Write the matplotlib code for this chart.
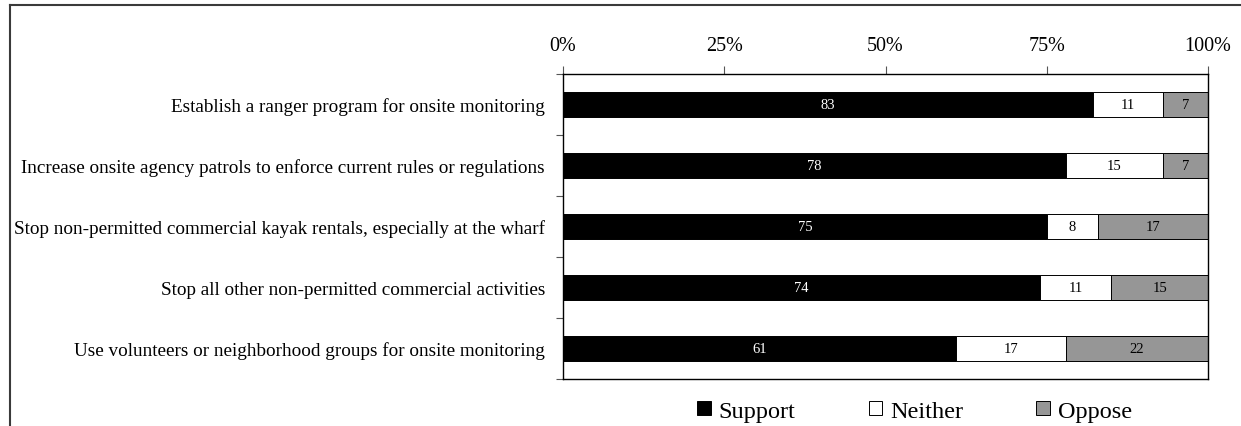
import numpy as np
import matplotlib
matplotlib.use("Agg")
import matplotlib.pyplot as plt
from matplotlib.patches import Patch
from matplotlib.lines import Line2D

plt.rcParams['font.family'] = ['Liberation Serif', 'DejaVu Serif']

actions = [
    "Establish a ranger program for onsite monitoring",
    "Increase onsite agency patrols to enforce current rules or regulations",
    "Stop non-permitted commercial kayak rentals, especially at the wharf",
    "Stop all other non-permitted commercial activities",
    "Use volunteers or neighborhood groups for onsite monitoring",
]
support = [83, 78, 75, 74, 61]
neither = [11, 15, 8, 11, 17]
oppose = [7, 7, 17, 15, 22]
series_names = ["Support", "Neither", "Oppose"]
xticks = [0, 25, 50, 75, 100]


def stacked(ax, cols, colors, txtcolors):
    y = np.arange(len(actions))
    tot = np.sum(cols, axis=0).astype(float)
    left = np.zeros(len(actions))
    for vals, c, tc in zip(cols, colors, txtcolors):
        vals = np.array(vals, dtype=float)
        w = vals / tot * 100
        ax.barh(y, w, left=left, height=0.41, color=c,
                edgecolor='black', linewidth=0.7)
        for yi, li, wi, v in zip(y, left, w, vals):
            ax.text(li + wi / 2, yi, "%d" % v, ha='center', va='center',
                    fontsize=10.5, color=tc)
        left = left + w


fig = plt.figure(figsize=(12.41, 4.27), dpi=100)
ax = fig.add_axes([0.4537, 0.110, 0.5197, 0.7144])

colors = ['black', 'white', '#969696']
stacked(ax, [support, neither, oppose], colors, ['white', 'black', 'black'])

ax.set_xlim(0, 100)
ax.set_ylim(len(actions) - 0.5, -0.5)
ax.xaxis.tick_top()
ax.set_xticks(xticks)
ax.set_xticklabels(["%d%%" % t for t in xticks], fontsize=14.5)
ax.tick_params(axis='x', direction='out', length=6, width=0.8, pad=8,
               color='#555555')

ax.set_yticks(np.arange(len(actions)))
ax.set_yticklabels(actions, fontsize=13.8)
ax.tick_params(axis='y', which='major', length=0, pad=13)
ax.set_yticks(np.arange(len(actions) + 1) - 0.5, minor=True)
ax.tick_params(axis='y', which='minor', length=5, width=0.8, color='#555555')

for s in ax.spines.values():
    s.set_linewidth(1.0)
    s.set_color('black')

handles = [Patch(facecolor=c, edgecolor='black', linewidth=0.7) for c in colors]
fig.legend(handles, series_names, loc='center', bbox_to_anchor=(0.737, 0.035),
           ncol=3, frameon=False, fontsize=17.5, handlelength=0.57,
           handleheight=0.57, handletextpad=0.33, columnspacing=3.0)

# outer frame (top and left edges only)
fig.add_artist(Line2D([10 / 1241, 1], [1 - 5.5 / 427, 1 - 5.5 / 427],
                      transform=fig.transFigure, color='#3a3a3a', lw=1.5))
fig.add_artist(Line2D([10 / 1241, 10 / 1241], [0, 1 - 5.5 / 427],
                      transform=fig.transFigure, color='#3a3a3a', lw=1.5))

fig.savefig("out.png", dpi=100)
